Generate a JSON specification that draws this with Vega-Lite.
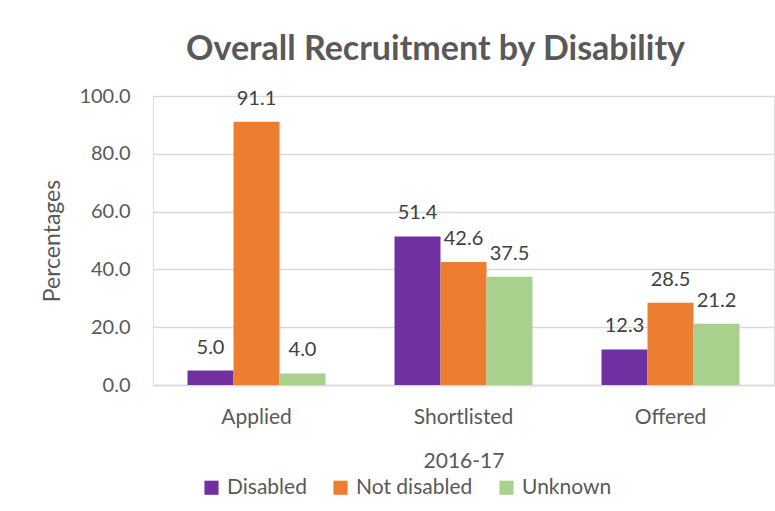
{
  "$schema": "https://vega.github.io/schema/vega-lite/v6.json",
  "autosize": "none",
  "width": 621,
  "height": 289,
  "padding": {"left": 153, "top": 96, "right": 1, "bottom": 126},
  "background": "white",
  "title": {
    "text": "Overall Recruitment by Disability",
    "font": "Lato",
    "fontSize": 34,
    "fontWeight": "bold",
    "color": "#595959",
    "anchor": "middle",
    "dx": -28,
    "offset": 19
  },
  "data": {
    "values": [
      {"stage": "Applied", "group": "Disabled", "value": 5.0},
      {"stage": "Applied", "group": "Not disabled", "value": 91.1},
      {"stage": "Applied", "group": "Unknown", "value": 4.0},
      {"stage": "Shortlisted", "group": "Disabled", "value": 51.4},
      {"stage": "Shortlisted", "group": "Not disabled", "value": 42.6},
      {"stage": "Shortlisted", "group": "Unknown", "value": 37.5},
      {"stage": "Offered", "group": "Disabled", "value": 12.3},
      {"stage": "Offered", "group": "Not disabled", "value": 28.5},
      {"stage": "Offered", "group": "Unknown", "value": 21.2}
    ]
  },
  "encoding": {
    "x": {
      "field": "stage",
      "type": "nominal",
      "sort": ["Applied", "Shortlisted", "Offered"],
      "scale": {"paddingInner": 0.3333, "paddingOuter": 0.1667},
      "axis": {
        "title": "2016-17",
        "labelAngle": 0,
        "labelFont": "Lato",
        "labelFontSize": 21,
        "labelColor": "#595959",
        "labelPadding": 21,
        "ticks": false,
        "domainColor": "#d9d9d9",
        "domainWidth": 1.5,
        "titleFont": "Lato",
        "titleFontSize": 21,
        "titleFontWeight": "normal",
        "titleColor": "#595959",
        "titlePadding": 23
      }
    },
    "xOffset": {
      "field": "group",
      "type": "nominal",
      "sort": ["Disabled", "Not disabled", "Unknown"],
      "scale": {"paddingInner": 0, "paddingOuter": 0}
    },
    "y": {
      "field": "value",
      "type": "quantitative",
      "scale": {"domain": [0, 100], "nice": false},
      "axis": {
        "title": "Percentages",
        "values": [0, 20, 40, 60, 80, 100],
        "format": ".1f",
        "labelFont": "Lato",
        "labelFontSize": 20,
        "labelColor": "#595959",
        "labelPadding": 23,
        "ticks": false,
        "domain": false,
        "gridColor": "#d9d9d9",
        "gridWidth": 1.5,
        "titleFont": "Lato",
        "titleFontSize": 23,
        "titleFontWeight": "normal",
        "titleColor": "#595959",
        "titlePadding": 14
      }
    }
  },
  "layer": [
    {
      "mark": {"type": "bar"},
      "encoding": {
        "color": {
          "field": "group",
          "type": "nominal",
          "sort": ["Disabled", "Not disabled", "Unknown"],
          "scale": {"range": ["#7030a0", "#ed7d31", "#a9d18e"]},
          "legend": {
            "orient": "none",
            "direction": "horizontal",
            "legendX": 48,
            "legendY": 381,
            "title": null,
            "symbolType": "square",
            "symbolSize": 200,
            "symbolStrokeWidth": 0,
            "symbolOpacity": 1,
            "labelFont": "Lato",
            "labelFontSize": 21,
            "labelColor": "#595959",
            "columnPadding": 23,
            "labelOffset": 5
          }
        }
      }
    },
    {
      "mark": {"type": "text", "dy": -13, "font": "Lato", "fontSize": 20, "color": "#404040", "baseline": "bottom"},
      "encoding": {
        "text": {"field": "value", "type": "quantitative", "format": ".1f"}
      }
    }
  ]
}
